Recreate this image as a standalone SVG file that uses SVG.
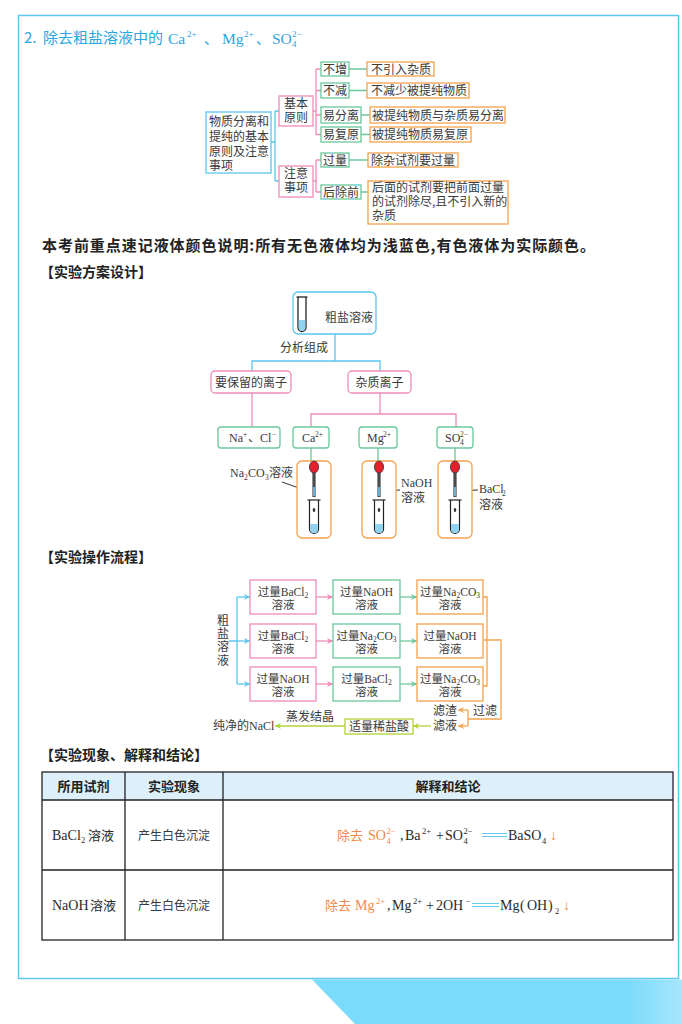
<svg xmlns="http://www.w3.org/2000/svg" width="682" height="1024" viewBox="0 0 682 1024">
<style>
.cn{font-family:"Liberation Serif","Noto Sans CJK SC",serif;fill:#3a3a3a;font-size:12px}
.sn{font-family:"Noto Sans CJK SC","Liberation Sans",sans-serif;fill:#3a3a3a;font-size:12px}
.bd{font-family:"Noto Sans CJK SC","Liberation Sans",sans-serif;font-weight:bold;fill:#222}
.fl{font-family:"Liberation Serif","Noto Sans CJK SC",serif;fill:#3a3a3a;font-size:11.5px;text-anchor:middle}
.mid{text-anchor:middle}
.sm{font-size:7.5px}
.bx{fill:#fff;stroke-width:1.3}
.cb{stroke:#5BC6EF}
.cp{stroke:#EE8DB8}
.cg{stroke:#6CC79C}
.co{stroke:#F5A24E}
.cy{stroke:#B3D235}
.ln{fill:none;stroke-width:1.3}
.or{fill:#F08A4B}
.tb{fill:none;stroke:#222;stroke-width:1.3}
.fm{font-family:"Liberation Serif","Noto Sans CJK SC",serif;fill:#2a2a2a;font-size:14px}
.fs{font-size:8.5px}
</style>
<defs>
<marker id="ab" viewBox="0 0 10 10" refX="10" refY="5" markerWidth="7" markerHeight="6" markerUnits="userSpaceOnUse" orient="auto"><path d="M0,0 L10,5 L0,10 L3,5 Z" fill="#5BC6EF"/></marker>
<marker id="ap" viewBox="0 0 10 10" refX="10" refY="5" markerWidth="7" markerHeight="6" markerUnits="userSpaceOnUse" orient="auto"><path d="M0,0 L10,5 L0,10 L3,5 Z" fill="#EE8DB8"/></marker>
<marker id="ag" viewBox="0 0 10 10" refX="10" refY="5" markerWidth="7" markerHeight="6" markerUnits="userSpaceOnUse" orient="auto"><path d="M0,0 L10,5 L0,10 L3,5 Z" fill="#6CC79C"/></marker>
<marker id="ao" viewBox="0 0 10 10" refX="10" refY="5" markerWidth="7" markerHeight="6" markerUnits="userSpaceOnUse" orient="auto"><path d="M0,0 L10,5 L0,10 L3,5 Z" fill="#F5A24E"/></marker>
<marker id="ay" viewBox="0 0 10 10" refX="10" refY="5" markerWidth="7" markerHeight="6" markerUnits="userSpaceOnUse" orient="auto"><path d="M0,0 L10,5 L0,10 L3,5 Z" fill="#B3D235"/></marker>
<linearGradient id="gd" x1="0" y1="0" x2="1" y2="0"><stop offset="0.85" stop-color="#7BDBFA"/><stop offset="1" stop-color="#A6E6FC"/></linearGradient>
<g id="dropper">
<rect x="-1.6" y="472" width="3.2" height="25" fill="#4a4a4a"/>
<rect x="-1" y="487" width="2" height="9" fill="#5FB3D6"/>
<ellipse cx="0" cy="467" rx="4.6" ry="6" fill="#E5202B" stroke="#333" stroke-width="0.8"/>
<path d="M-4.5,500 L-4.5,529 A4.5,4.5 0 0 0 4.5,529 L4.5,500" fill="#fff" stroke="#222" stroke-width="1.2"/>
<path d="M-3.9,524 L-3.9,529 A3.9,3.9 0 0 0 3.9,529 L3.9,524 Z" fill="#8FD3F0"/>
<line x1="-6.5" y1="500" x2="6.5" y2="500" stroke="#222" stroke-width="1.2"/>
<ellipse cx="0" cy="510" rx="1.3" ry="1.9" fill="#333"/>
</g>
</defs>
<rect width="682" height="1024" fill="#fff"/>
<rect x="18.5" y="15.5" width="660" height="963" fill="none" stroke="#5BC8EE" stroke-width="1.5"/>
<polygon points="312,979.5 682,979.5 682,1024 355,1024" fill="url(#gd)"/>

<!-- Heading -->
<g id="heading">
<text font-family="Noto Sans CJK SC, Liberation Sans, sans-serif" font-size="15" fill="#2AA6E0"><tspan x="24" y="43">2.</tspan><tspan x="43" y="43">除去粗盐溶液中的</tspan></text>
<text font-family="Liberation Serif, Noto Sans CJK SC, serif" font-size="15.5" fill="#2AA6E0"><tspan x="168" y="44">Ca</tspan><tspan x="187" y="37" font-size="9">2+</tspan><tspan x="204" y="44" font-family="Noto Sans CJK SC" font-size="14">、</tspan><tspan x="222" y="44">Mg</tspan><tspan x="244" y="37" font-size="9">2+</tspan><tspan x="256" y="44" font-family="Noto Sans CJK SC" font-size="14">、</tspan><tspan x="272" y="44">SO</tspan><tspan x="292" y="47" font-size="9">4</tspan><tspan x="292" y="37" font-size="9">2−</tspan></text>
</g>

<!-- Tree connectors -->
<g id="tree-connectors">
<path class="ln cb" d="M271,142 H275 M275,111 V181 M275,111 H279 M275,181 H279"/>
<path class="ln cp" d="M313,111 H316 M316,69 V135 M316,69 H321 M316,90.5 H321 M316,115 H321 M316,134.5 H321"/>
<path class="ln cp" d="M313,181 H316 M316,160 V192 M316,160 H321 M316,192 H321"/>
<path class="ln cg" d="M349,69 H367 M349,90.5 H367 M361,115 H370 M361,134.5 H370 M349,160 H368 M361,192 H368"/>
</g>
<g id="n-root"><rect class="bx cb" x="206" y="112" width="65" height="61"/><text class="sn"><tspan x="209" y="126">物质分离和</tspan><tspan x="209" y="141">提纯的基本</tspan><tspan x="209" y="156">原则及注意</tspan><tspan x="209" y="170">事项</tspan></text></g>
<g id="n-jbyz"><rect class="bx cp" x="279" y="96" width="34" height="30"/><text class="sn mid"><tspan x="296" y="108">基本</tspan><tspan x="296" y="122">原则</tspan></text></g>
<g id="n-zysx"><rect class="bx cp" x="279" y="166" width="34" height="31"/><text class="sn mid"><tspan x="296" y="178">注意</tspan><tspan x="296" y="192">事项</tspan></text></g>
<g id="n-bz"><rect class="bx cg" x="321" y="62" width="28" height="14"/><text class="sn" x="323" y="73.5">不增</text></g>
<g id="n-bj"><rect class="bx cg" x="321" y="83" width="28" height="15"/><text class="sn" x="323" y="95">不减</text></g>
<g id="n-yfl"><rect class="bx cg" x="321" y="107" width="40" height="16"/><text class="sn" x="323" y="119.5">易分离</text></g>
<g id="n-yfy"><rect class="bx cg" x="321" y="127" width="40" height="15"/><text class="sn" x="323" y="139">易复原</text></g>
<g id="n-gl"><rect class="bx cg" x="321" y="153" width="28" height="14"/><text class="sn" x="323" y="164.5">过量</text></g>
<g id="n-hcq"><rect class="bx cg" x="321" y="185" width="40" height="14"/><text class="sn" x="323" y="196.5">后除前</text></g>
<g id="n-o1"><rect class="bx co" x="367" y="62" width="67" height="14"/><text class="sn" x="371" y="73.5">不引入杂质</text></g>
<g id="n-o2"><rect class="bx co" x="367" y="83" width="102" height="15"/><text class="sn" x="371" y="95">不减少被提纯物质</text></g>
<g id="n-o3"><rect class="bx co" x="370" y="107" width="135" height="16"/><text class="sn" x="372" y="119.5">被提纯物质与杂质易分离</text></g>
<g id="n-o4"><rect class="bx co" x="370" y="127" width="101" height="15"/><text class="sn" x="372" y="139">被提纯物质易复原</text></g>
<g id="n-o5"><rect class="bx co" x="368" y="153" width="90" height="14"/><text class="sn" x="371" y="164.5">除杂试剂要过量</text></g>
<g id="n-o6"><rect class="bx co" x="368" y="181" width="140" height="43"/><text class="sn"><tspan x="372" y="192">后面的试剂要把前面过量</tspan><tspan x="372" y="206">的试剂除尽,且不引入新的</tspan><tspan x="372" y="220">杂质</tspan></text></g>

<!-- Notes and section titles -->
<text class="bd" x="42" y="251" font-size="15" textLength="553" lengthAdjust="spacing">本考前重点速记液体颜色说明:所有无色液体均为浅蓝色,有色液体为实际颜色。</text>
<text class="bd" x="40" y="277" font-size="14">【实验方案设计】</text>
<text class="bd" x="40" y="562" font-size="14">【实验操作流程】</text>
<text class="bd" x="40" y="760" font-size="14">【实验现象、解释和结论】</text>

<!-- Experiment design connectors -->
<g id="design-connectors">
<path class="ln cb" d="M335,334 V361 M252,371 V361 H380 V371"/>
<path class="ln cp" d="M252,393 V427 M380,393 V414 M311,427 V414 H456 V427"/>
<path class="ln cg" d="M311,448 V461 M378,448 V461 M455,448 V461"/>
<path fill="none" stroke="#333" stroke-width="1" d="M305,322 L324,316 M282,482 L313,493 M380,491 L400,490 M457,491 L478,490"/>
</g>
<text class="sn mid" x="304" y="352">分析组成</text>
<g id="n-crude">
<rect class="bx cb" x="293" y="292" width="83" height="42" rx="5"/>
<path d="M298,297 L298,327.5 A4,4 0 0 0 306,327.5 L306,297" fill="#fff" stroke="#222" stroke-width="1.3"/>
<path d="M298.7,320 L298.7,327.5 A3.3,3.3 0 0 0 305.3,327.5 L305.3,320 Z" fill="#8FD3F0"/>
<line x1="296.5" y1="297" x2="307.5" y2="297" stroke="#222" stroke-width="1.3"/>
<text class="sn" x="325" y="322">粗盐溶液</text>
</g>
<g id="n-keep"><rect class="bx cp" x="211" y="371" width="80" height="22" rx="4"/><text class="sn mid" x="251" y="386.5">要保留的离子</text></g>
<g id="n-impure"><rect class="bx cp" x="348" y="371" width="63" height="22" rx="4"/><text class="sn mid" x="379.5" y="386.5">杂质离子</text></g>
<g id="n-nacl"><rect class="bx cg" x="218" y="427" width="62" height="21" rx="3"/><text class="cn" font-size="11.5"><tspan x="229" y="442">Na</tspan><tspan x="243" y="437" class="sm">+</tspan><tspan x="248" y="442">、Cl</tspan><tspan x="272" y="437" class="sm">−</tspan></text></g>
<g id="n-ca"><rect class="bx cg" x="293" y="427" width="36" height="21" rx="3"/><text class="cn" font-size="11.5"><tspan x="302" y="442">Ca</tspan><tspan x="315" y="437" class="sm">2+</tspan></text></g>
<g id="n-mg"><rect class="bx cg" x="359" y="427" width="38" height="21" rx="3"/><text class="cn" font-size="11.5"><tspan x="367" y="442">Mg</tspan><tspan x="383" y="437" class="sm">2+</tspan></text></g>
<g id="n-so4"><rect class="bx cg" x="437" y="427" width="36" height="21" rx="3"/><text class="cn" font-size="11.5"><tspan x="445" y="442">SO</tspan><tspan x="460" y="445" class="sm">4</tspan><tspan x="460" y="437" class="sm">2−</tspan></text></g>
<g id="n-t1"><rect class="bx co" x="297" y="461" width="34" height="77" rx="5"/><use href="#dropper" x="314"/></g>
<g id="n-t2"><rect class="bx co" x="362" y="461" width="34" height="77" rx="5"/><use href="#dropper" x="379"/></g>
<g id="n-t3"><rect class="bx co" x="438" y="461" width="34" height="77" rx="5"/><use href="#dropper" x="455"/></g>
<text class="cn"><tspan x="230" y="477">Na</tspan><tspan x="244" y="480" class="sm">2</tspan><tspan x="248" y="477">CO</tspan><tspan x="265" y="480" class="sm">3</tspan><tspan x="269" y="477">溶液</tspan></text>
<text class="cn"><tspan x="401" y="487">NaOH</tspan><tspan x="401" y="502">溶液</tspan></text>
<text class="cn"><tspan x="479" y="493">BaCl</tspan><tspan x="502" y="495.5" class="sm">2</tspan><tspan x="479" y="509">溶液</tspan></text>

<!-- Flow -->
<text class="sn" font-size="11.5" x="223" y="614.5" writing-mode="vertical-rl" letter-spacing="1.2">粗盐溶液</text>
<g id="flow-connectors">
<path class="ln cb" d="M229,641 H237 M237,597 V684"/>
<path class="ln cb" d="M237,597 H250" marker-end="url(#ab)"/>
<path class="ln cb" d="M237,641 H250" marker-end="url(#ab)"/>
<path class="ln cb" d="M237,684 H250" marker-end="url(#ab)"/>
<path class="ln cp" d="M316,597 H333" marker-end="url(#ap)"/>
<path class="ln cp" d="M316,641 H333" marker-end="url(#ap)"/>
<path class="ln cp" d="M316,684 H333" marker-end="url(#ap)"/>
<path class="ln cg" d="M400,597 H417" marker-end="url(#ag)"/>
<path class="ln cg" d="M400,641 H417" marker-end="url(#ag)"/>
<path class="ln cg" d="M400,684 H417" marker-end="url(#ag)"/>
<path class="ln co" d="M483,597 H487 V686 H483 M483,640 H501 V719 H468 M468,710 V726"/>
<path class="ln co" d="M468,710 H458" marker-end="url(#ao)"/>
<path class="ln co" d="M468,726 H458" marker-end="url(#ao)"/>
<path class="ln cy" d="M431,726 H413" marker-end="url(#ay)"/>
<path class="ln cy" d="M345,726 H275" marker-end="url(#ay)"/>
</g>
<g id="f11"><rect class="bx cp" x="250" y="580" width="66" height="34"/><text class="fl"><tspan x="283" y="596">过量BaCl<tspan class="sm" dy="2">2</tspan></tspan><tspan x="283" y="609">溶液</tspan></text></g>
<g id="f12"><rect class="bx cg" x="333" y="580" width="67" height="34"/><text class="fl"><tspan x="366.5" y="596">过量NaOH</tspan><tspan x="366.5" y="609">溶液</tspan></text></g>
<g id="f13"><rect class="bx co" x="417" y="580" width="66" height="34"/><text class="fl"><tspan x="450" y="596">过量Na<tspan class="sm" dy="2">2</tspan><tspan dy="-2">CO</tspan><tspan class="sm" dy="2">3</tspan></tspan><tspan x="450" y="609">溶液</tspan></text></g>
<g id="f21"><rect class="bx cp" x="250" y="624" width="66" height="34"/><text class="fl"><tspan x="283" y="640">过量BaCl<tspan class="sm" dy="2">2</tspan></tspan><tspan x="283" y="653">溶液</tspan></text></g>
<g id="f22"><rect class="bx cg" x="333" y="624" width="67" height="34"/><text class="fl"><tspan x="366.5" y="640">过量Na<tspan class="sm" dy="2">2</tspan><tspan dy="-2">CO</tspan><tspan class="sm" dy="2">3</tspan></tspan><tspan x="366.5" y="653">溶液</tspan></text></g>
<g id="f23"><rect class="bx co" x="417" y="624" width="66" height="34"/><text class="fl"><tspan x="450" y="640">过量NaOH</tspan><tspan x="450" y="653">溶液</tspan></text></g>
<g id="f31"><rect class="bx cp" x="250" y="667" width="66" height="34"/><text class="fl"><tspan x="283" y="683">过量NaOH</tspan><tspan x="283" y="696">溶液</tspan></text></g>
<g id="f32"><rect class="bx cg" x="333" y="667" width="67" height="34"/><text class="fl"><tspan x="366.5" y="683">过量BaCl<tspan class="sm" dy="2">2</tspan></tspan><tspan x="366.5" y="696">溶液</tspan></text></g>
<g id="f33"><rect class="bx co" x="417" y="667" width="66" height="34"/><text class="fl"><tspan x="450" y="683">过量Na<tspan class="sm" dy="2">2</tspan><tspan dy="-2">CO</tspan><tspan class="sm" dy="2">3</tspan></tspan><tspan x="450" y="696">溶液</tspan></text></g>
<text class="cn" x="433" y="714.5">滤渣</text>
<text class="cn" x="433" y="730">滤液</text>
<text class="cn" x="473" y="714.5">过滤</text>
<g id="f-hcl"><rect class="bx cy" x="345" y="719" width="68" height="15"/><text class="cn mid" x="379" y="731">适量稀盐酸</text></g>
<text class="cn mid" x="310" y="721">蒸发结晶</text>
<text class="cn" x="213" y="730">纯净的NaCl</text>

<!-- Table -->
<g id="table">
<rect x="42" y="772" width="631" height="28" fill="#DDF0F9"/>
<rect class="tb" x="42" y="772" width="631" height="168"/>
<path class="tb" d="M42,800 H673 M42,870 H673 M125,772 V940 M223,772 V940"/>
<text class="bd mid" font-size="13" x="83.5" y="791">所用试剂</text>
<text class="bd mid" font-size="13" x="174" y="791">实验现象</text>
<text class="bd mid" font-size="13" x="448" y="791">解释和结论</text>
<text class="fm"><tspan x="52" y="840">BaCl</tspan><tspan x="81" y="843" class="fs">2</tspan><tspan x="88" y="840" font-size="13">溶液</tspan></text>
<text class="fm"><tspan x="52" y="910">NaOH</tspan><tspan x="90" y="910" font-size="13">溶液</tspan></text>
<text class="cn mid" font-size="13.5" x="174" y="840">产生白色沉淀</text>
<text class="cn mid" font-size="13.5" x="174" y="910">产生白色沉淀</text>
<text class="fm"><tspan x="337" y="840" class="or" font-size="13">除去</tspan><tspan x="368" y="840" class="or">SO</tspan><tspan x="386.5" y="843.5" class="fs or">4</tspan><tspan x="386.5" y="834" class="fs or">2−</tspan><tspan x="400" y="840">,</tspan><tspan x="405" y="840">Ba</tspan><tspan x="422" y="834" class="fs">2+</tspan><tspan x="436" y="840">+</tspan><tspan x="445" y="840">SO</tspan><tspan x="463.5" y="843.5" class="fs">4</tspan><tspan x="463.5" y="834" class="fs">2−</tspan><tspan x="508" y="840">BaSO</tspan><tspan x="542" y="843.5" class="fs">4</tspan><tspan x="550" y="840" class="or">↓</tspan></text>
<path d="M482,833.5 H507 M482,836.5 H507" stroke="#6BC8F0" stroke-width="1"/>
<text class="fm"><tspan x="325" y="910" class="or" font-size="13">除去</tspan><tspan x="355" y="910" class="or">Mg</tspan><tspan x="376" y="904" class="fs or">2+</tspan><tspan x="387" y="910">,</tspan><tspan x="392" y="910">Mg</tspan><tspan x="413" y="904" class="fs">2+</tspan><tspan x="426" y="910">+</tspan><tspan x="436" y="910">2OH</tspan><tspan x="466" y="904" class="fs">−</tspan><tspan x="500" y="910">Mg</tspan><tspan x="520" y="910">(</tspan><tspan x="527" y="910">OH</tspan><tspan x="548" y="910">)</tspan><tspan x="555" y="913.5" class="fs">2</tspan><tspan x="563" y="910" class="or">↓</tspan></text>
<path d="M472,903.5 H499 M472,906.5 H499" stroke="#6BC8F0" stroke-width="1"/>
</g>
</svg>
